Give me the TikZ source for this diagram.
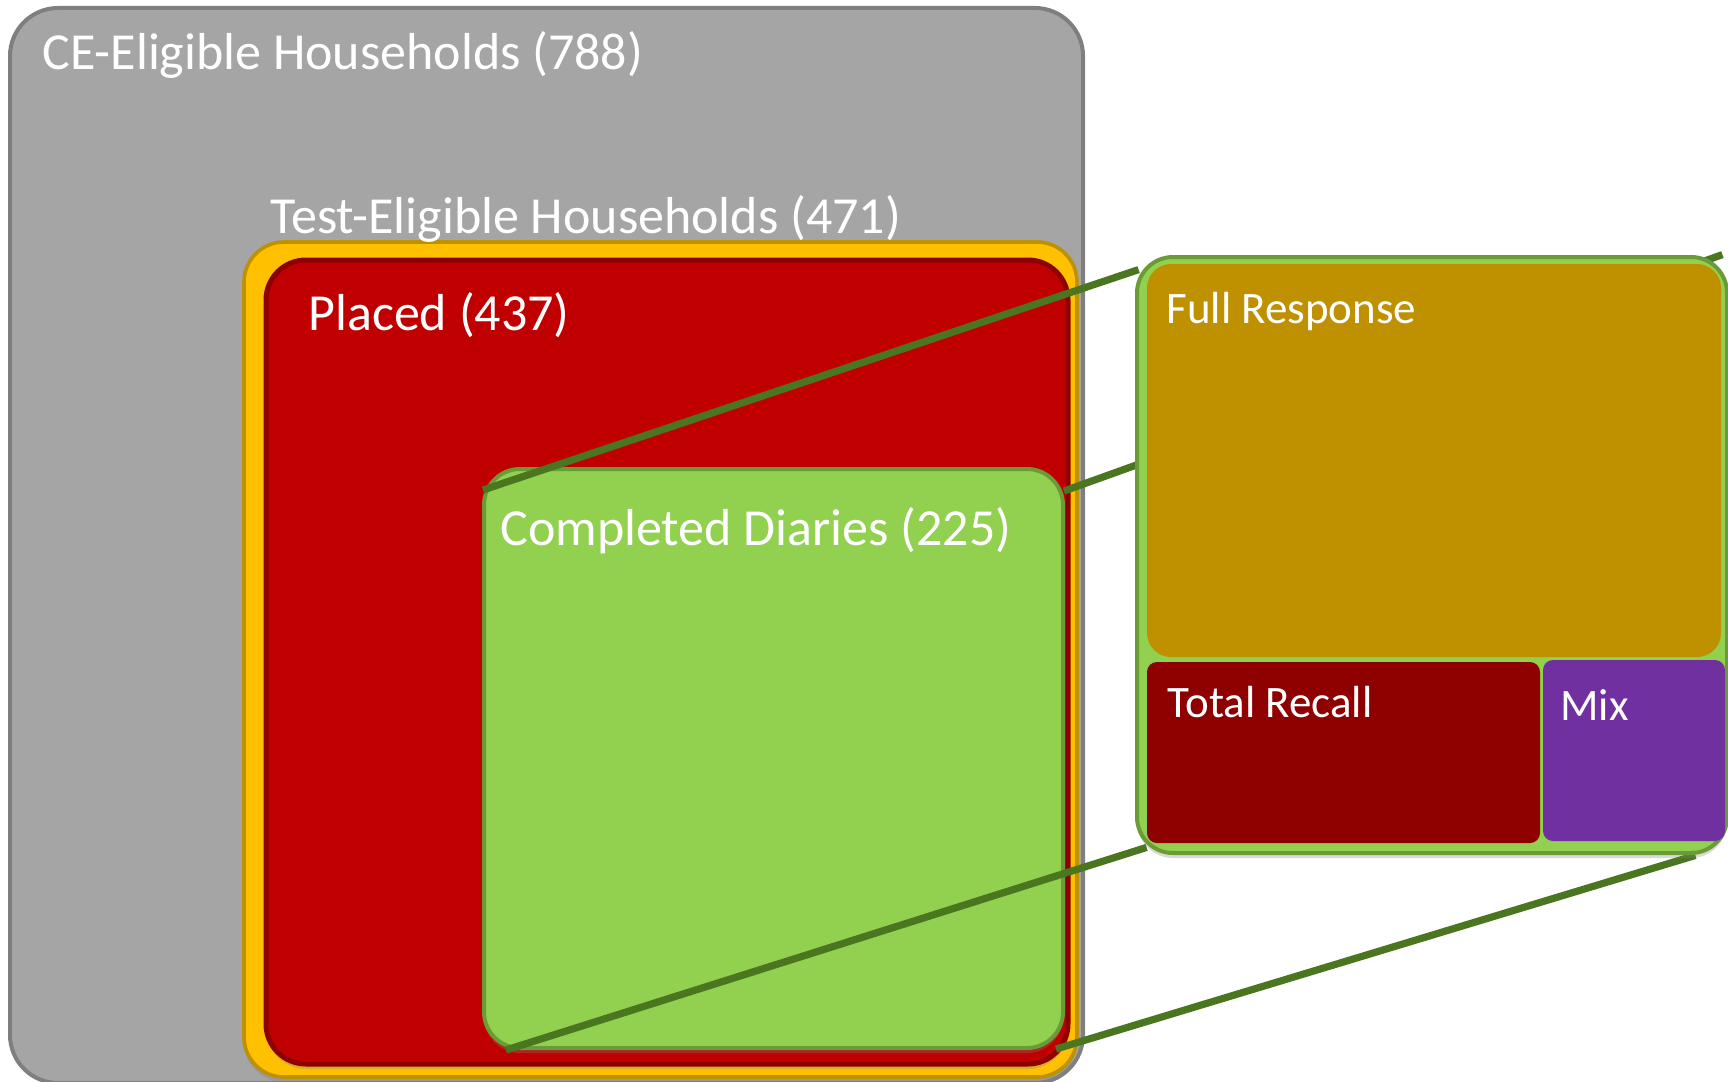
\documentclass[tikz,border=0pt]{standalone}
\usepackage{fontspec}
\setmainfont{Carlito}
\usetikzlibrary{calc,shadows}

\definecolor{ceFill}{RGB}{165,165,165}
\definecolor{ceEdge}{RGB}{127,127,127}
\definecolor{testFill}{RGB}{255,192,0}
\definecolor{testEdge}{RGB}{191,144,0}
\definecolor{placedFill}{RGB}{192,0,0}
\definecolor{placedEdge}{RGB}{140,0,0}
\definecolor{doneFill}{RGB}{146,208,80}
\definecolor{doneEdge}{RGB}{107,155,55}
\definecolor{fullFill}{RGB}{191,144,0}
\definecolor{recallFill}{RGB}{143,0,0}
\definecolor{mixFill}{RGB}{112,48,160}
\definecolor{zoomLine}{RGB}{75,118,32}

\tikzset{
  box/.style = {rectangle, rounded corners = #1, inner sep = 0pt},
  size/.style 2 args = {minimum width = #1*0.5pt, minimum height = #2*0.5pt},
  shade/.style = {drop shadow = {shadow xshift = 0pt, shadow yshift = -2.5pt, opacity = 0.3}},
  lbl/.style = {text = white, inner sep = 0pt, anchor = base west, font = \fontsize{26}{30}\selectfont},
  sublbl/.style = {lbl, font = \fontsize{22.5}{26}\selectfont},
  zoomline/.style = {draw = zoomLine, line width = 3.6pt}
}

\begin{document}
\begin{tikzpicture}[x = 0.5pt, y = -0.5pt]
            \useasboundingbox (0,0) rectangle (1728,1081);
            \node[box = 24pt, size = {1073}{1075}, fill = ceFill, draw = ceEdge, line width = 2pt] (ce) at (546.5,545.5) {};
            \node[lbl] (ceText) at (42,70) {CE-Eligible Households (788)};
            \node[box = 20pt, size = {833}{835}, fill = testFill, draw = testEdge, line width = 1.8pt, shade] (test) at (660.5,659.5) {};
            \node[lbl] (testText) at (270,233) {Test-Eligible Households (471)};
            \node[box = 20pt, size = {802}{804}, fill = placedFill, draw = placedEdge, line width = 2.5pt, shade] (placed) at (667,662) {};
            \node[lbl] (placedText) at (308,330) {Placed (437)};
            \node[box = 18pt, size = {579}{579}, fill = doneFill, draw = doneEdge, line width = 2pt, shade] (done) at (773.5,758.5) {};
            \node[lbl] (doneText) at (500,545) {Completed Diaries (225)};

            \node[box = 18pt, size = {590}{596}] (panel) at (1432,555) {};
            \draw[zoomline] ($(done.north west)+(1,23)$) -- ($(panel.north west)+(2,13)$);
            \draw[zoomline] ($(done.north east)+(-1,24)$) -- ($(panel.north east)+(-5,-2)$);
            \draw[zoomline] ($(done.south west)+(24,0)$) -- ($(panel.south west)+(10,-6)$);
            \draw[zoomline] ($(done.south east)+(-9,-1)$) -- ($(panel.south east)+(-32,2)$);

            \node[box = 18pt, size = {590}{596}, fill = doneFill, draw = doneEdge, line width = 2pt, shade] at (panel) {};
            \node[box = 12pt, size = {574}{393}, fill = fullFill] (full) at (1434,460.5) {};
            \node[sublbl] (fullText) at (1166,323) {Full Response};
            \node[box = 5pt, size = {393}{181}, fill = recallFill] (recall) at (1343.5,752.5) {};
            \node[sublbl] (recallText) at (1167,717) {Total Recall};
            \node[box = 5pt, size = {182}{181}, fill = mixFill] (mix) at (1634,750.5) {};
            \node[sublbl] (mixText) at (1560,720) {Mix};
        \end{tikzpicture}
\end{document}
